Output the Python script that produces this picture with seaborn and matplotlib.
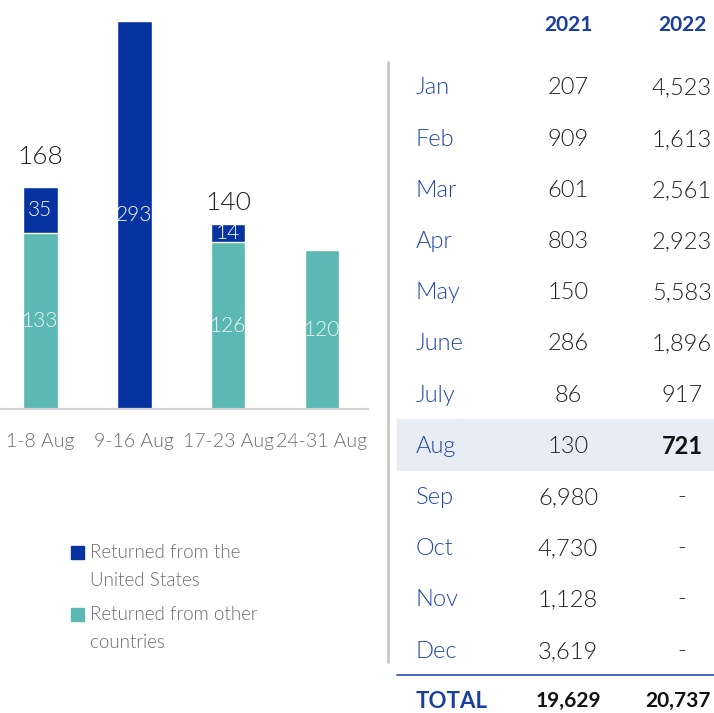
import seaborn as sns
import matplotlib.pyplot as plt
import pandas as pd

# bar chart data (August 2022, by week)
weeks = ["1-8 Aug", "9-16 Aug", "17-23 Aug", "24-31 Aug"]
from_us = [35, 293, 14, 0]
from_other = [133, 0, 126, 120]
total_label_offset = [21, 0, 15, 0]   # points above the bar top

# table data
months = ["Jan", "Feb", "Mar", "Apr", "May", "June", "July", "Aug", "Sep", "Oct", "Nov", "Dec"]
vals_2021 = ["207", "909", "601", "803", "150", "286", "86", "130", "6,980", "4,730", "1,128", "3,619"]
vals_2022 = ["4,523", "1,613", "2,561", "2,923", "5,583", "1,896", "917", "721", "-", "-", "-", "-"]
years = ["2021", "2022"]
totals = ["19,629", "20,737"]

BLUE = "#0633a0"
TEAL = "#5cb8b2"
LABEL_BLUE = "#2149a8"
GREY = "#6b6b6b"
W, H = 714, 713

sns.set_style("white")
plt.rcParams["font.family"] = ["Lato", "DejaVu Sans"]
LIGHT = 300

df = pd.DataFrame({"week": weeks, "us": from_us, "other": from_other})
df["total"] = df["us"] + df["other"]

fig = plt.figure(figsize=(W / 100, H / 100), dpi=100)

def px(x, y):
    return x / W, 1 - y / H

# --- stacked bars ---
ax = fig.add_axes([0, 1 - 409 / H, 368 / W, (409 - 21) / H])
sns.barplot(data=df, x="week", y="total", color=BLUE, width=0.37, saturation=1, ax=ax)
sns.barplot(data=df, x="week", y="other", color=TEAL, width=0.37, saturation=1, ax=ax)
ax.set_ylim(0, 293)
ax.set_xlim(-0.43, 3.49)
ax.set_xlabel("")
ax.set_ylabel("")
ax.set_yticks([])
for s in ["left", "right", "top"]:
    ax.spines[s].set_visible(False)
ax.spines["bottom"].set_color("#d4d4d4")
ax.spines["bottom"].set_linewidth(1.6)
ax.tick_params(axis="x", length=0, pad=17, labelsize=14, labelcolor=GREY)
for lab in ax.get_xticklabels():
    lab.set_fontweight(LIGHT)

for i, row in df.iterrows():
    if row["us"] > 0:
        ax.text(i, row["other"] + row["us"] / 2, str(row["us"]), ha="center", va="center",
                color="white", fontsize=15, fontweight=LIGHT)
    if row["other"] > 0:
        ax.text(i, row["other"] / 2, str(row["other"]), ha="center", va="center",
                color="#eef8f7", fontsize=15, fontweight=LIGHT)
    if row["us"] > 0 and row["other"] > 0:
        ax.annotate(str(row["total"]), (i, row["total"]), xytext=(0, total_label_offset[i]),
                    textcoords="offset points", ha="center", va="center",
                    fontsize=19, color="#222222", fontweight=LIGHT)

# legend
for (y, c) in [(552, BLUE), (614, TEAL)]:
    fig.patches.append(plt.Rectangle(px(71, y + 7), 13 / W, 13 / H, transform=fig.transFigure,
                                     color=c, figure=fig))
for y, t in [(552, "Returned from the"), (580, "United States"),
             (614, "Returned from other"), (642, "countries")]:
    fig.text(*px(90, y), t, ha="left", va="center", fontsize=13.5, color=GREY, fontweight=LIGHT)

# --- table ---
fig.add_artist(plt.Line2D([388 / W, 388 / W], [1 - 62 / H, 1 - 662 / H],
                          color="#c8c8c8", linewidth=2, transform=fig.transFigure))
fig.patches.append(plt.Rectangle(px(397, 470), (W - 397) / W, 51 / H,
                                 transform=fig.transFigure, color="#e8edf4", figure=fig))
fig.add_artist(plt.Line2D([397 / W, 1], [1 - 675 / H, 1 - 675 / H],
                          color="#3a5bb0", linewidth=1.3, transform=fig.transFigure))

col_x = [568, 682]
for x, yr in zip(col_x, years):
    fig.text(*px(x, 25), yr, ha="center", va="center", fontsize=15,
             fontweight="bold", color="#1a3f9e")

for k, m in enumerate(months):
    y = 88 + k * 51.2
    fig.text(*px(416, y), m, ha="left", va="center", fontsize=17, color=LABEL_BLUE,
             fontweight=LIGHT)
    fig.text(*px(col_x[0], y), vals_2021[k], ha="center", va="center", fontsize=17,
             color="#222222", fontweight=LIGHT)
    bold = m == "Aug"
    fig.text(*px(col_x[1], y), vals_2022[k], ha="center", va="center", fontsize=17,
             color="#111111" if bold else "#222222", fontweight="bold" if bold else LIGHT)

fig.text(*px(416, 701), "TOTAL", ha="left", va="center", fontsize=16,
         fontweight="bold", color="#1a3f9e")
for x, t in zip([568, 678], totals):
    fig.text(*px(x, 701), t, ha="center", va="center", fontsize=15,
             fontweight="bold", color="#111111")

fig.savefig("out.png", dpi=100)
